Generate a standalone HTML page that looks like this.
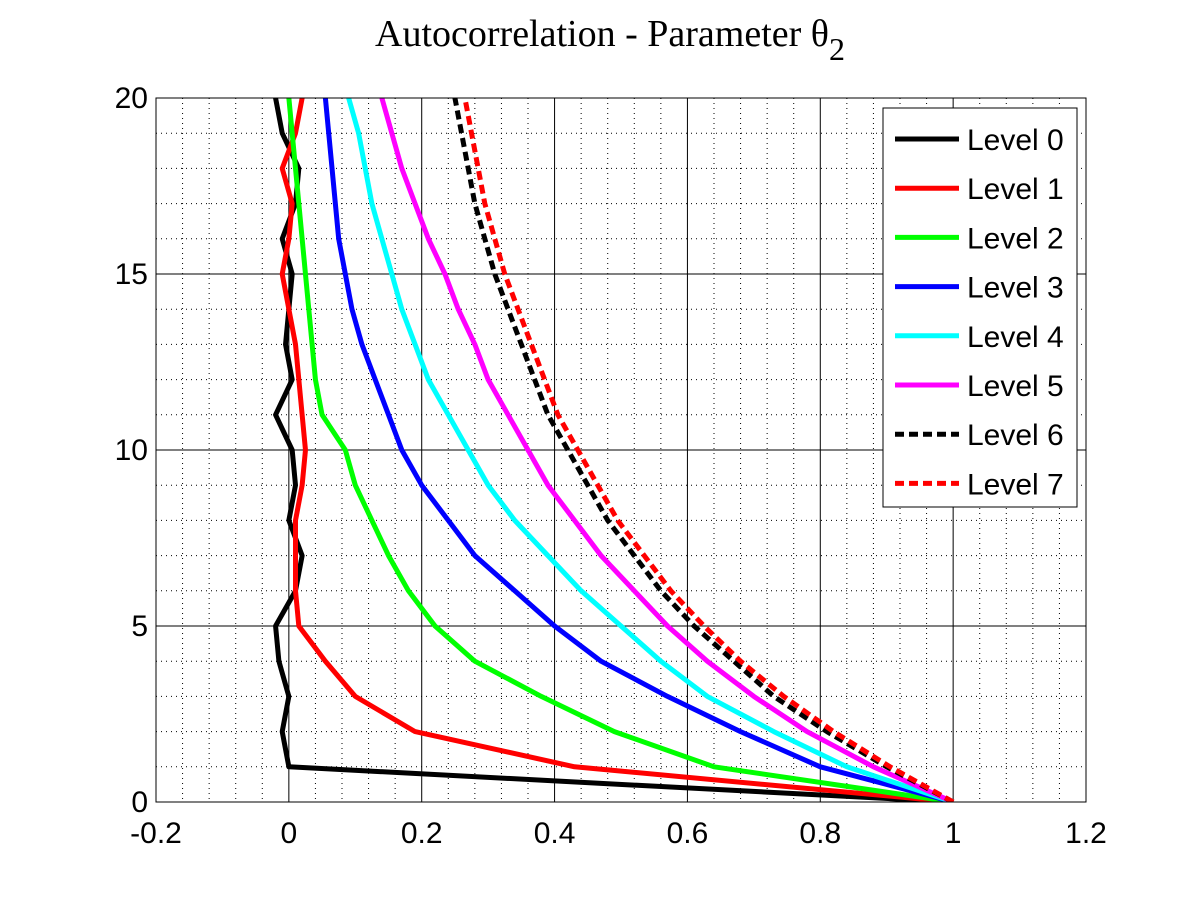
<!DOCTYPE html>
<html><head><meta charset="utf-8"><style>body{margin:0;background:#fff}svg{display:block}</style></head>
<body>
<svg id="chart" width="1200" height="900" xmlns="http://www.w3.org/2000/svg">
<rect width="1200" height="900" fill="#fff"/>
<text x="610" y="46" text-anchor="middle" font-family="Liberation Serif, serif" font-size="38">Autocorrelation - Parameter θ<tspan dy="14" font-size="32">2</tspan></text>
<g id="grid"></g><g id="series"></g><g id="axes"></g><g id="legend"></g>
</svg>
<script>
const xTicks=[-0.2,0,0.2,0.4,0.6,0.8,1,1.2];
const yTicks=[0,5,10,15,20];
const lags=[0,1,2,3,4,5,6,7,8,9,10,11,12,13,14,15,16,17,18,19,20];
const level0=[1,0,-0.01,0,-0.015,-0.02,0.01,0.02,0,0.01,0.005,-0.02,0.005,-0.005,0,0.005,-0.01,0.01,0.015,-0.01,-0.02];
const level1=[1,0.43,0.19,0.1,0.055,0.015,0.01,0.01,0.01,0.02,0.025,0.02,0.015,0.01,0,-0.01,0,0.005,-0.01,0.01,0.02];
const level2=[1,0.64,0.49,0.38,0.28,0.22,0.18,0.15,0.125,0.1,0.085,0.05,0.04,0.035,0.03,0.025,0.02,0.015,0.01,0.005,0];
const level3=[1,0.8,0.68,0.57,0.47,0.4,0.34,0.28,0.24,0.2,0.17,0.15,0.13,0.11,0.095,0.085,0.075,0.07,0.065,0.06,0.055];
const level4=[1,0.84,0.73,0.63,0.56,0.5,0.44,0.39,0.34,0.3,0.27,0.24,0.21,0.19,0.17,0.155,0.14,0.125,0.115,0.105,0.09];
const level5=[1,0.88,0.78,0.7,0.63,0.57,0.52,0.47,0.43,0.39,0.36,0.33,0.3,0.28,0.255,0.235,0.21,0.19,0.17,0.155,0.14];
const level6=[1,0.9,0.81,0.73,0.67,0.61,0.56,0.52,0.48,0.45,0.42,0.39,0.37,0.35,0.33,0.31,0.295,0.28,0.27,0.26,0.25];
const level7=[1,0.905,0.82,0.745,0.68,0.625,0.575,0.535,0.495,0.465,0.435,0.405,0.385,0.365,0.345,0.325,0.31,0.295,0.285,0.275,0.265];
const seriesNames=["Level 0","Level 1","Level 2","Level 3","Level 4","Level 5","Level 6","Level 7"];
const seriesData=[level0,level1,level2,level3,level4,level5,level6,level7];
const colors=["#000","#f00","#0f0","#00f","#0ff","#f0f","#000","#f00"];
const dashed=[false,false,false,false,false,false,true,true];
const L=156,R=1086,T=98,B=802,xMin=-0.2,xMax=1.2,yMin=0,yMax=20;
const sx=v=>L+(v-xMin)/(xMax-xMin)*(R-L);
const sy=v=>B-(v-yMin)/(yMax-yMin)*(B-T);
const NS="http://www.w3.org/2000/svg";
function mk(tag,attrs,parent){const e=document.createElementNS(NS,tag);for(const k in attrs)e.setAttribute(k,attrs[k]);parent.appendChild(e);return e;}
const grid=document.getElementById('grid'),axes=document.getElementById('axes'),ser=document.getElementById('series'),leg=document.getElementById('legend');
for(let i=0;i<=35;i++){const v=xMin+i*0.04;if(i%5===0)continue;const l=mk('line',{x1:sx(v),x2:sx(v),y1:T,y2:B,stroke:'#000','stroke-width':1,'stroke-dasharray':'1,4'},grid);}
for(let i=0;i<=20;i++){if(i%5===0)continue;const l=mk('line',{x1:L,x2:R,y1:sy(i),y2:sy(i),stroke:'#000','stroke-width':1,'stroke-dasharray':'1,4'},grid);}
xTicks.forEach(v=>{const l=mk('line',{x1:sx(v),x2:sx(v),y1:T,y2:B,stroke:'#000','stroke-width':1},grid);
const t=mk('text',{x:sx(v),y:B+41,'text-anchor':'middle','font-family':'Liberation Sans, sans-serif','font-size':30},axes);t.textContent=String(v);});
yTicks.forEach(v=>{const l=mk('line',{x1:L,x2:R,y1:sy(v),y2:sy(v),stroke:'#000','stroke-width':1},grid);
const t=mk('text',{x:L-8,y:sy(v)+10,'text-anchor':'end','font-family':'Liberation Sans, sans-serif','font-size':30},axes);t.textContent=String(v);});
const fr=mk('rect',{x:L,y:T,width:R-L,height:B-T,fill:'none',stroke:'#000','stroke-width':1},axes);
const cp=mk('clipPath',{id:'cp'},ser);mk('rect',{x:L,y:T,width:R-L,height:B-T},cp);
seriesData.forEach((d,i)=>{const p=mk('polyline',{points:d.map((v,j)=>sx(v)+','+sy(lags[j])).join(' '),fill:'none',stroke:colors[i],'stroke-width':5,'stroke-linejoin':'round','clip-path':'url(#cp)'},ser);
if(dashed[i])p.setAttribute('stroke-dasharray','9,5');
});
const lb=mk('rect',{x:883,y:108,width:194,height:399,fill:'#fff',stroke:'#000','stroke-width':1},leg);
seriesNames.forEach((n,i)=>{const y=139+i*49.2;const g=mk('g',{},leg);
const l=mk('line',{x1:895,x2:959,y1:y,y2:y,stroke:colors[i],'stroke-width':5},g);if(dashed[i])l.setAttribute('stroke-dasharray','9,5');
const t=mk('text',{x:967,y:y+11,'font-family':'Liberation Sans, sans-serif','font-size':30},g);t.textContent=n;});
</script>
</body></html>
